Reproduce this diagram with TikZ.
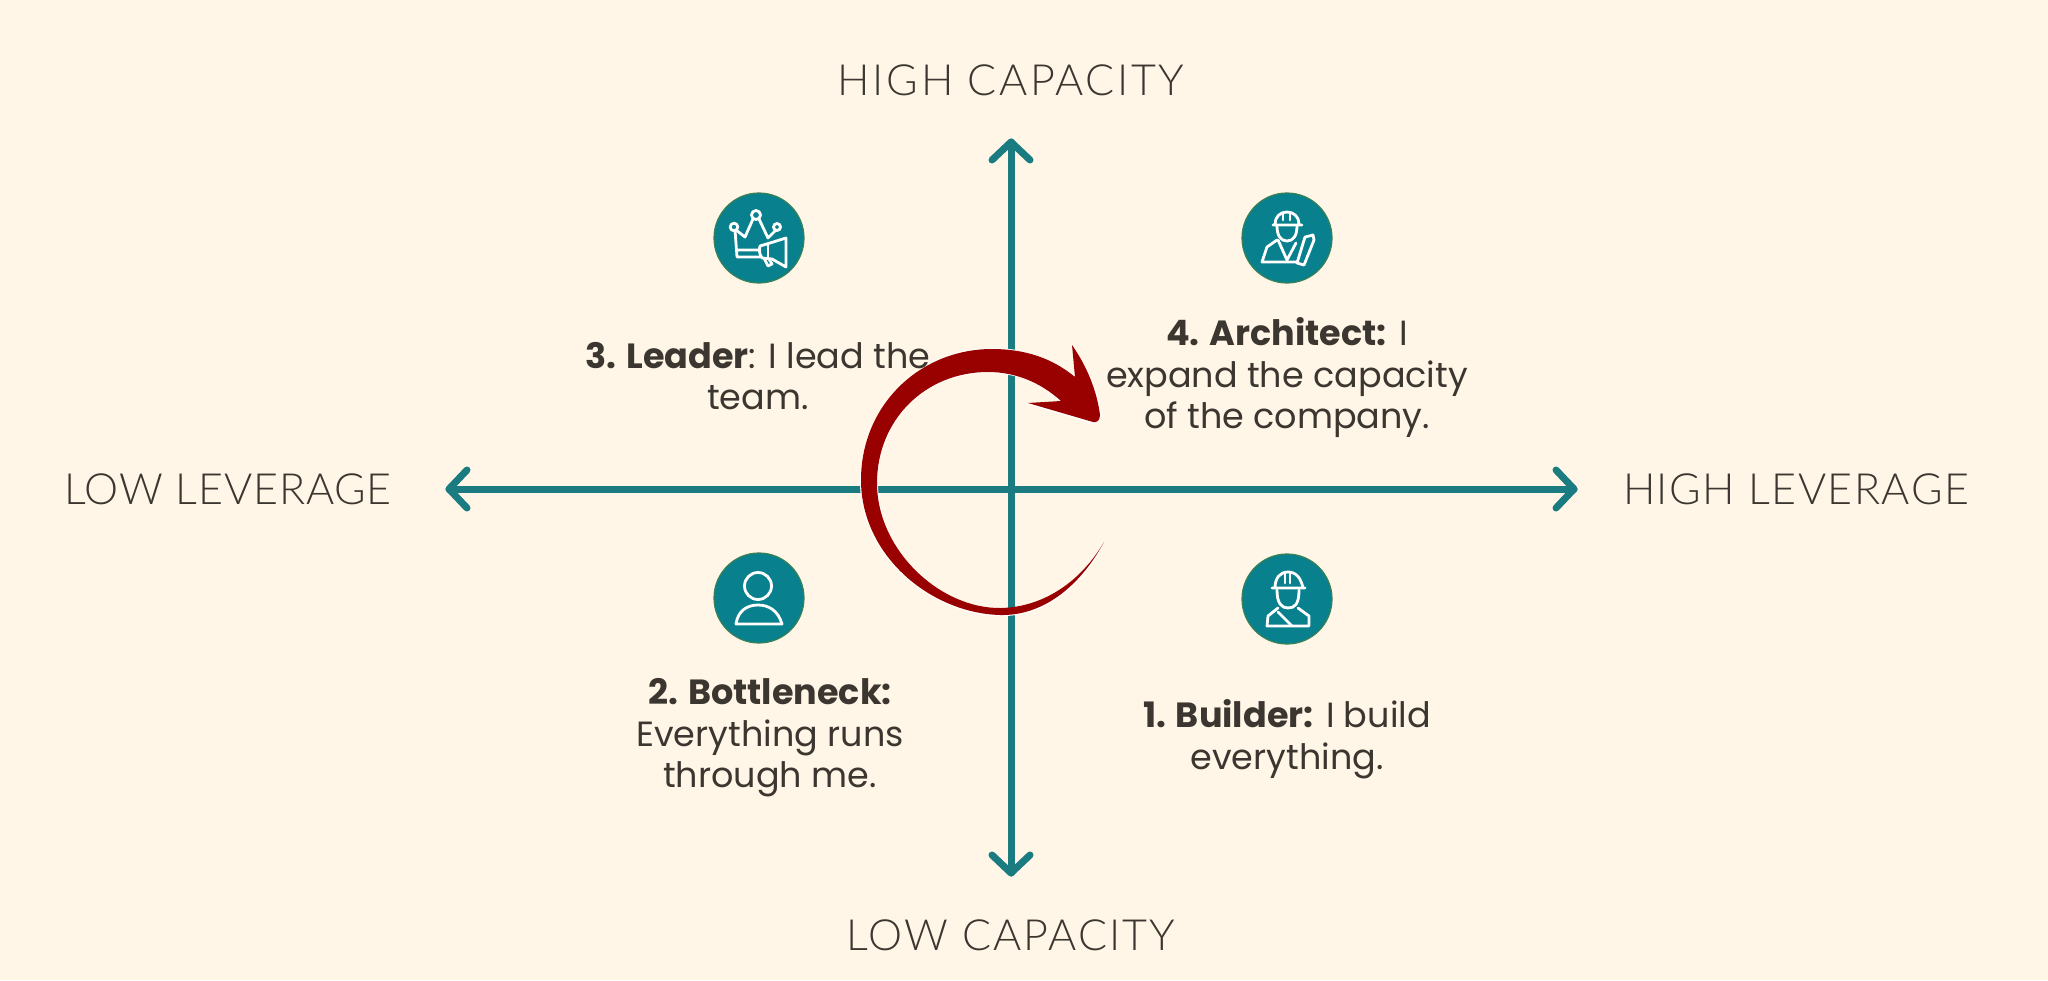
\documentclass[tikz,border=0pt]{standalone}
\usepackage{fontspec}
\setmainfont{Poppins}
\newfontfamily\capsfont{Lato Light}
\definecolor{bg}{HTML}{FFF6E7}
\definecolor{tealb}{HTML}{08808E}
\definecolor{axisc}{HTML}{1A7B80}
\definecolor{ink}{HTML}{3C3630}
\definecolor{dred}{HTML}{990000}
\tikzset{
 axisline/.style={draw=axisc,line width=7pt,line cap=round,line join=round},
 badge/.style={circle,fill=tealb,draw=tealb!60!olive,line width=1.2pt,minimum size=90pt,inner sep=0pt},
 ico/.style={draw=white,line width=2.8pt,line cap=round,line join=round},
 capt/.style={font=\capsfont\fontsize{43}{43}\selectfont,text=ink,inner sep=0pt},
 body/.style={font=\fontsize{35}{41.5}\selectfont,text=ink,align=center,inner sep=0pt},
}
\begin{document}
\begin{tikzpicture}[x=1pt,y=-1pt]
\useasboundingbox (0,0) rectangle (2048,980);
\fill[bg] (0,0) rectangle (2048,980);
\coordinate (top) at (1011,142);
\coordinate (bot) at (1011,873);
\coordinate (lft) at (449,489);
\coordinate (rgt) at (1574,489);
\draw[axisline] (top) -- (bot);
\draw[axisline] (lft) -- (rgt);
\draw[axisline] (992,160) -- (top) -- (1030,160);
\draw[axisline] (992,855) -- (bot) -- (1030,855);
\draw[axisline] (467,470) -- (lft) -- (467,508);
\draw[axisline] (1556,470) -- (rgt) -- (1556,508);
\node[capt] (c1) at (1011,80) {\addfontfeature{LetterSpace=6}HIGH CAPACITY};
\node[capt] (c2) at (1011,935) {\addfontfeature{LetterSpace=5}LOW CAPACITY};
\node[capt] (c3) at (228,489) {\addfontfeature{LetterSpace=2}LOW LEVERAGE};
\node[capt] (c4) at (1796,489) {\addfontfeature{LetterSpace=3.5}HIGH LEVERAGE};
\node[badge] (b3) at (759,238) {};
\node[badge] (b4) at (1287,238) {};
\node[badge] (b2) at (759,598) {};
\node[badge] (b1) at (1287,599) {};
% leader icon
\begin{scope}[shift={(700,180)}]
\draw[ico] (35,50) -- (37,77) -- (60,77) (37,70) -- (60,70);
\draw[ico] (36,50) -- (45,57) -- (53,39) (59,39) -- (68,58) -- (76,50);
\draw[ico] (56,35) circle (4.5pt);
\draw[ico] (34,47) circle (3.8pt) (77,47) circle (3.5pt);
\draw[ico] (70,63) -- (86,58) -- (86,87) -- (72,79) -- (62,78) .. controls (59,74) and (59,69) .. (60,66) -- (70,63);
\draw[ico] (68,65) -- (68,78);
\draw[ico] (64,78) -- (68,86) -- (72,84) -- (69,79);
\end{scope}
% architect icon
\begin{scope}[shift={(1230,180)}]
\draw[ico] (43,45) -- (72,45) (45,44) .. controls (45,37) and (50,32) .. (57,32) .. controls (64,32) and (69,37) .. (69,44);
\draw[ico] (53,33) -- (53,40) (60,33) -- (60,40);
\draw[ico] (47,46) .. controls (47,56) and (51,61) .. (57,61) .. controls (63,61) and (67,56) .. (67,46);
\draw[ico] (47,60) -- (37,67) -- (32,82) -- (67,82);
\draw[ico] (48,60) -- (57,80) -- (66,63);
\draw[ico] (75,57) -- (83,55) -- (84,60) -- (74,85) -- (67,83) -- cycle;
\end{scope}
% person icon
\begin{scope}[shift={(700,540)}]
\draw[ico] (58,46) circle (13.5pt);
\draw[ico] (36,84) .. controls (38,70) and (48,65) .. (58,65) .. controls (68,65) and (78,70) .. (82,84) -- cycle;
\end{scope}
% builder icon
\begin{scope}[shift={(1230,540)}]
\draw[ico] (42,48) -- (75,48) (45,48) .. controls (45,38) and (50,32) .. (58,32) .. controls (66,32) and (71,38) .. (73,48);
\draw[ico] (55,33) -- (55,43) (60,33) -- (60,43);
\draw[ico] (47,50) .. controls (47,64) and (52,68) .. (58,68) .. controls (65,68) and (69,64) .. (69,50);
\draw[ico] (48,68) -- (38,76) -- (37,86) -- (79,86) -- (79,76) -- (68,68);
\draw[ico] (48,72) -- (62,86);
\end{scope}
% spiral arrow
\fill[white] (1105,541) .. controls (1080,592) and (1040,617) .. (1000,616)
 .. controls (930,615) and (859,555) .. (860,480)
 .. controls (861,405) and (920,348) .. (992,348)
 .. controls (1025,348) and (1052,358) .. (1075,376) -- (1072,344)
 .. controls (1088,368) and (1098,392) .. (1102,416) -- (1094,424) -- (1027,404) -- (1060,402)
 .. controls (1040,382) and (1015,373) .. (988,373)
 .. controls (925,373) and (878,420) .. (878,483)
 .. controls (878,550) and (940,610) .. (1001,610)
 .. controls (1045,609) and (1082,580) .. (1105,541) -- cycle;
\fill[dred] (1104,542) .. controls (1078,590) and (1040,616) .. (1000,615)
 .. controls (930,613) and (861,555) .. (861,480)
 .. controls (861,405) and (920,349) .. (992,349)
 .. controls (1025,349) and (1052,358) .. (1075,377) -- (1072,345)
 .. controls (1088,368) and (1097,392) .. (1100,415) .. controls (1100,420) and (1097,423) .. (1093,422)
 -- (1028,403) -- (1061,401)
 .. controls (1040,382) and (1015,372) .. (988,372)
 .. controls (925,372) and (877,420) .. (877,483)
 .. controls (877,550) and (940,609) .. (1001,608)
 .. controls (1045,607) and (1082,580) .. (1104,542) -- cycle;
\node[body] (t3) at (758,376) {\textbf{3. Leader}: I lead the\\team.};
\node[body] (t4) at (1287,378) {\textbf{4. Architect:} I\\expand the capacity\\of the company.};
\node[body] (t2) at (770,738) {\textbf{2. Bottleneck:}\\Everything runs\\through me.};
\node[body] (t1) at (1287,739) {\textbf{1. Builder:} I build\\everything.};
\end{tikzpicture}
\end{document}
